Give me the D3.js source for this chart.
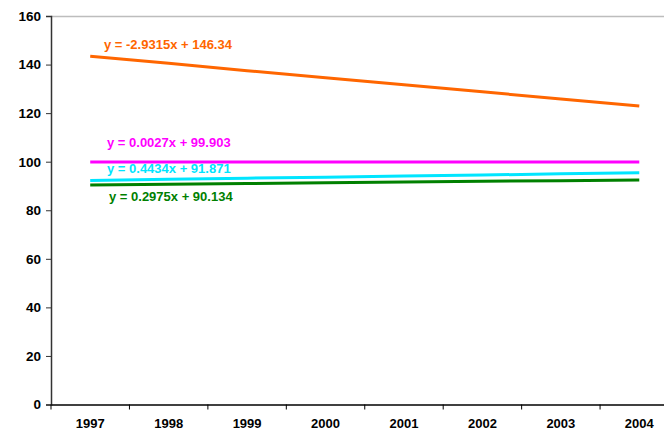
<!DOCTYPE html>
<html>
<head>
<meta charset="utf-8">
<script src="https://cdn.jsdelivr.net/npm/d3@7"></script>
<style>
  body { margin: 0; background: #fff; }
  text { font-family: "Liberation Sans", Arial, sans-serif; font-weight: bold; }
</style>
</head>
<body>
<div id="chart"></div>
<script>
// years on the x axis
var years = ["1997", "1998", "1999", "2000", "2001", "2002", "2003", "2004"];
var yTicks = [0, 20, 40, 60, 80, 100, 120, 140, 160];

// trend line values per year
var orangeVals  = [143.4, 140.5, 137.5, 134.6, 131.7, 128.8, 125.8, 122.9];
var magentaVals = [99.9, 99.9, 99.9, 99.9, 99.9, 99.9, 99.9, 99.9];
var cyanVals    = [92.3, 92.8, 93.2, 93.6, 94.1, 94.5, 95.0, 95.4];
var greenVals   = [90.4, 90.7, 91.0, 91.3, 91.6, 91.9, 92.2, 92.5];

var equations = ["y = -2.9315x + 146.34", "y = 0.0027x + 99.903", "y = 0.4434x + 91.871", "y = 0.2975x + 90.134"];

var series = [
  { vals: orangeVals,  color: "#ff6600", label: equations[0], lx: 104, ly: 44 },
  { vals: magentaVals, color: "#ff00ff", label: equations[1], lx: 107, ly: 142 },
  { vals: cyanVals,    color: "#00e5ff", label: equations[2], lx: 107, ly: 168 },
  { vals: greenVals,   color: "#008000", label: equations[3], lx: 109, ly: 196 }
];

var width = 664, height = 432;
var margin = { top: 16, left: 51 };
var plotW = 627.5, plotH = 388.5;

var svg = d3.select("#chart").append("svg")
    .attr("width", width)
    .attr("height", height);

var g = svg.append("g")
    .attr("transform", "translate(" + margin.left + "," + margin.top + ")");

var x = d3.scaleBand().domain(years).range([0, plotW]);
var y = d3.scaleLinear().domain([0, 160]).range([plotH, 0]);

// top border of plot area
g.append("line")
    .attr("x1", 0).attr("x2", width)
    .attr("y1", 0.5).attr("y2", 0.5)
    .attr("stroke", "#bdbdbd")
    .attr("stroke-width", 1.5);

// y axis
var yAxis = g.append("g")
    .call(d3.axisLeft(y).tickValues(yTicks).tickSize(5).tickPadding(5));
yAxis.select(".domain").attr("stroke", "#333").attr("stroke-width", 1.5);
yAxis.selectAll(".tick line").attr("stroke", "#333");
yAxis.selectAll("text").attr("font-size", "13.5px").attr("fill", "#000")
    .style("font-family", "Liberation Sans, Arial, sans-serif").style("font-weight", "bold");

// x axis with ticks between categories
var xAxis = g.append("g")
    .attr("transform", "translate(0," + plotH + ")")
    .call(d3.axisBottom(x).tickSize(0).tickPadding(14));
xAxis.select(".domain").attr("stroke", "#000").attr("stroke-width", 1.5);
xAxis.selectAll("text").attr("font-size", "13px").attr("fill", "#000")
    .style("font-family", "Liberation Sans, Arial, sans-serif").style("font-weight", "bold");
xAxis.selectAll(".sep")
    .data(years)
    .enter().append("line")
    .attr("class", "sep")
    .attr("x1", function (d) { return x(d); })
    .attr("x2", function (d) { return x(d); })
    .attr("y1", 0).attr("y2", 5)
    .attr("stroke", "#000");

var line = d3.line()
    .x(function (d, i) { return x(years[i]) + x.bandwidth() / 2; })
    .y(function (d) { return y(d); });

g.selectAll(".trend")
    .data(series)
    .enter().append("path")
    .attr("class", "trend")
    .attr("d", function (d) { return line(d.vals); })
    .attr("fill", "none")
    .attr("stroke", function (d) { return d.color; })
    .attr("stroke-width", 3);

svg.selectAll(".eq")
    .data(series)
    .enter().append("text")
    .attr("class", "eq")
    .attr("x", function (d) { return d.lx; })
    .attr("y", function (d) { return d.ly; })
    .attr("dy", "0.35em")
    .attr("font-size", "13px")
    .attr("fill", function (d) { return d.color; })
    .text(function (d) { return d.label; });
</script>
</body>
</html>
